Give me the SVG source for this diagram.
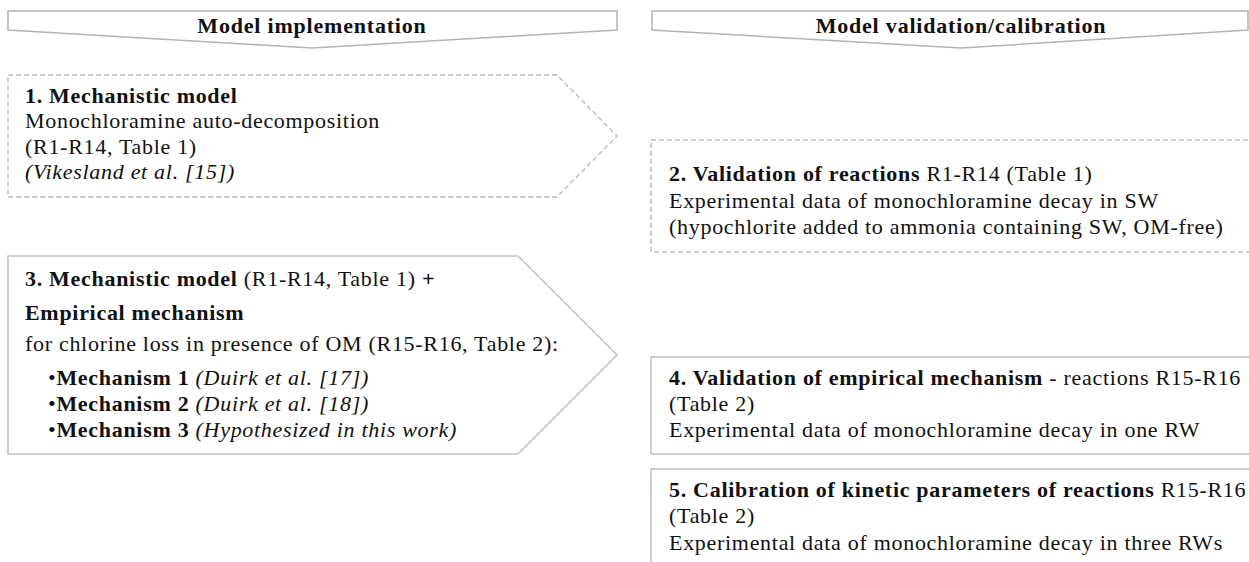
<svg xmlns="http://www.w3.org/2000/svg" width="1249" height="562" viewBox="0 0 1249 562">
<style>
.hdr{fill:#fff;stroke:#b4b4b4;stroke-width:1.5}
.solid{fill:#fff;stroke:#c4c4c4;stroke-width:1.6}
.dash{fill:#fff;stroke:#bdbdbd;stroke-width:1.4;stroke-dasharray:5 3}
text{font-family:"Liberation Serif","Times New Roman",serif;font-size:22px;fill:#111;letter-spacing:0.7px}
.b{font-weight:bold}
.i{font-style:italic}
.t{font-weight:bold;text-anchor:middle;letter-spacing:0.8px}
</style>
<rect width="1249" height="562" fill="#fff"/>
<g id="header-implementation">
<polygon class="hdr" points="8,11 617,11 617,30 312,48 8,30"/>
<text class="t" x="312" y="33">Model implementation</text>
</g>
<g id="header-validation">
<polygon class="hdr" points="652,11 1248,11 1248,30 961,48 652,30"/>
<text class="t" x="961" y="33">Model validation/calibration</text>
</g>
<g id="node1">
<polygon class="dash" points="8,75 557,75 617,136 557,197 8,197"/>
<text x="25" y="103" class="b">1. Mechanistic model</text>
<text x="25" y="128">Monochloramine auto-decomposition</text>
<text x="25" y="154">(R1-R14, Table 1)</text>
<text x="25" y="179" class="i">(Vikesland et al. [15])</text>
</g>
<g id="node3">
<polygon class="solid" points="8,256 518,256 617,355 518,454 8,454"/>
<text x="25" y="286"><tspan class="b">3. Mechanistic model</tspan> (R1-R14, Table 1) <tspan class="b">+</tspan></text>
<text x="25" y="320" class="b">Empirical mechanism</text>
<text x="25" y="351">for chlorine loss in presence of OM (R15-R16, Table 2):</text>
<text x="48" y="385">•<tspan class="b">Mechanism 1</tspan> <tspan class="i">(Duirk et al. [17])</tspan></text>
<text x="48" y="411">•<tspan class="b">Mechanism 2</tspan> <tspan class="i">(Duirk et al. [18])</tspan></text>
<text x="48" y="437">•<tspan class="b">Mechanism 3</tspan> <tspan class="i">(Hypothesized in this work)</tspan></text>
</g>
<g id="node2">
<rect class="dash" x="651" y="140" width="600" height="112"/>
<text x="669" y="181"><tspan class="b">2. Validation of reactions</tspan> R1-R14 (Table 1)</text>
<text x="669" y="208">Experimental data of monochloramine decay in SW</text>
<text x="669" y="234">(hypochlorite added to ammonia containing SW, OM-free)</text>
</g>
<g id="node4">
<rect class="solid" x="651" y="357" width="600" height="97"/>
<text x="669" y="385"><tspan class="b">4. Validation of empirical mechanism</tspan> - reactions R15-R16</text>
<text x="669" y="411">(Table 2)</text>
<text x="669" y="437">Experimental data of monochloramine decay in one RW</text>
</g>
<g id="node5">
<rect class="solid" x="651" y="469" width="600" height="110"/>
<text x="669" y="497"><tspan class="b">5. Calibration of kinetic parameters of reactions</tspan> R15-R16</text>
<text x="669" y="523">(Table 2)</text>
<text x="669" y="550">Experimental data of monochloramine decay in three RWs</text>
</g>
<g id="connectors"></g>
</svg>
